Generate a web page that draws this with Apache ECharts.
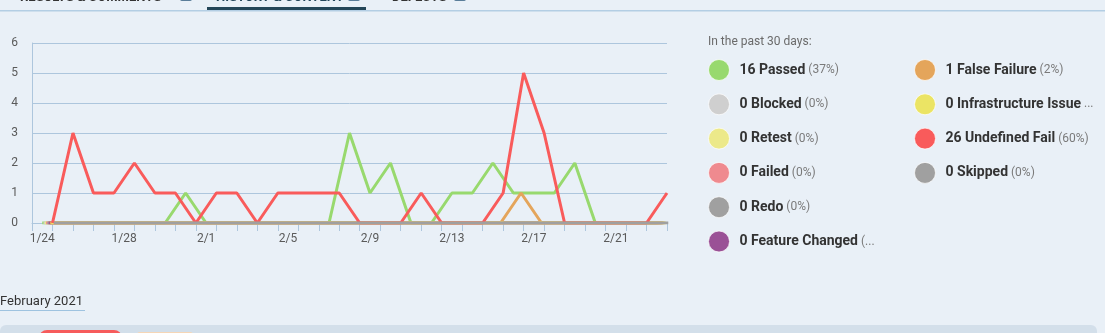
<!DOCTYPE html>
<html><head><meta charset="utf-8">
<script src="https://cdn.jsdelivr.net/npm/echarts@6/dist/echarts.min.js"></script>
<style>html,body{margin:0;padding:0;background:#e9f0f7;overflow:hidden}#c{width:1105px;height:333px}</style>
</head><body><div id="c"></div><script>
// ---- data ----
const days = ['1/24','1/25','1/26','1/27','1/28','1/29','1/30','1/31','2/1','2/2','2/3','2/4','2/5','2/6','2/7','2/8','2/9','2/10','2/11','2/12','2/13','2/14','2/15','2/16','2/17','2/18','2/19','2/20','2/21','2/22','2/23'];
const yTicks = [0,1,2,3,4,5,6];
const names = ['Passed','Blocked','Retest','Failed','Redo','Feature Changed','False Failure','Infrastructure Issue','Undefined Fail','Skipped'];
const counts = [16,0,0,0,0,0,1,0,26,0];
const percents = ['37%','0%','0%','0%','0%','0%','2%','0%','60%','0%'];
const passed         = [0,0,0,0,0,0,0,1,0,0,0,0,0,0,0,3,1,2,0,0,1,1,2,1,1,1,2,0,0,0,0];
const blocked        = [0,0,0,0,0,0,0,0,0,0,0,0,0,0,0,0,0,0,0,0,0,0,0,0,0,0,0,0,0,0,0];
const retest         = [0,0,0,0,0,0,0,0,0,0,0,0,0,0,0,0,0,0,0,0,0,0,0,0,0,0,0,0,0,0,0];
const failed         = [0,0,0,0,0,0,0,0,0,0,0,0,0,0,0,0,0,0,0,0,0,0,0,0,0,0,0,0,0,0,0];
const redo           = [0,0,0,0,0,0,0,0,0,0,0,0,0,0,0,0,0,0,0,0,0,0,0,0,0,0,0,0,0,0,0];
const featureChanged = [0,0,0,0,0,0,0,0,0,0,0,0,0,0,0,0,0,0,0,0,0,0,0,0,0,0,0,0,0,0,0];
const falseFailure   = [0,0,0,0,0,0,0,0,0,0,0,0,0,0,0,0,0,0,0,0,0,0,0,1,0,0,0,0,0,0,0];
const infraIssue     = [0,0,0,0,0,0,0,0,0,0,0,0,0,0,0,0,0,0,0,0,0,0,0,0,0,0,0,0,0,0,0];
const undefinedFail  = [0,3,1,1,2,1,1,0,1,1,0,1,1,1,1,0,0,0,1,0,0,0,1,5,3,0,0,0,0,0,1];
const skipped        = [0,0,0,0,0,0,0,0,0,0,0,0,0,0,0,0,0,0,0,0,0,0,0,0,0,0,0,0,0,0,0];
const seriesValues = [passed,blocked,retest,failed,redo,featureChanged,falseFailure,infraIssue,undefinedFail,skipped];

// ---- style ----
const colors = ['#98d96e','#cfcfcf','#ece98a','#ef8a8f','#a0a0a0','#9a5196','#e4a55b','#ebe464','#f95b5b','#a0a0a0'];
const OFFSET_STEP = 1/16;   // per-series horizontal stagger (fraction of a day)
const FONT = 'Roboto';
const blue = '#adc6dd';

const countOf = {}, pctOf = {};
names.forEach((n,i)=>{countOf[n]=counts[i]; pctOf[n]=percents[i];});
const legendText = n => `{b|${countOf[n]} ${n}}{p| (${pctOf[n]})}`;
const rich = {
  b:{fontFamily:FONT,fontWeight:'bold',fontSize:14,color:'#333'},
  p:{fontFamily:FONT,fontSize:12,color:'#7a7a7a'}
};
function legendCfg(left, data, width){
  return {
    left:left, top:54, orient:'vertical', itemGap:12.3, itemWidth:21, itemHeight:21,
    icon:'circle', selectedMode:false, data:data,
    itemStyle:{borderColor:'rgba(255,255,255,0.7)',borderWidth:1},
    formatter:legendText,
    textStyle:{width:width, overflow:'truncate', ellipsis:'...', padding:[0,0,0,5], rich:rich}
  };
}

const chart = echarts.init(document.getElementById('c'), null, {renderer:'canvas'});
chart.setOption({
  backgroundColor:'#e9f0f7',
  animation:false,
  textStyle:{fontFamily:FONT},
  title:{text:'In the past 30 days:', left:703, top:31, textStyle:{fontFamily:FONT,fontSize:12,fontWeight:'normal',color:'#6a6a6a'}},
  legend:[ legendCfg(703, names.slice(0,6), 145), legendCfg(909, names.slice(6), 151) ],
  grid:{left:32, right:438, top:43, bottom:110, outerBoundsMode:'none'},
  xAxis:[
    {type:'category', data:days, boundaryGap:true,
     axisLine:{lineStyle:{color:blue,width:1}},
     axisTick:{show:true, interval:0, length:8, lineStyle:{color:blue}},
     axisLabel:{interval:3, color:'#5a5a5a', fontSize:12, margin:10, fontFamily:FONT},
     splitLine:{show:false}},
    {type:'value', min:-0.5, max:days.length-0.5, show:false, splitLine:{show:false}}
  ],
  yAxis:{type:'value', min:yTicks[0], max:yTicks[yTicks.length-1], interval:1,
    axisLine:{show:true, onZero:false, lineStyle:{color:blue}},
    axisTick:{show:false},
    axisLabel:{color:'#5a5a5a', fontSize:12, margin:14, fontFamily:FONT},
    splitLine:{lineStyle:{color:blue,width:1}}},
  series:names.map((n,k)=>({
    type:'line', name:n, xAxisIndex:1, symbol:'none', showSymbol:false, silent:true,
    data:seriesValues[k].map((v,i)=>[i + k*OFFSET_STEP, v]),
    lineStyle:{width:3, color:colors[k]}, itemStyle:{color:colors[k]}
  })),
  graphic:[
    // top tabs (clipped)
    {type:'text', left:20, top:-9, style:{text:'RESULTS & COMMENTS', font:'bold 13px '+FONT, fill:'#333'}},
    {type:'rect', left:180, top:-9, shape:{width:12,height:10,r:2}, style:{fill:'#5a7d99'}},
    {type:'text', left:216, top:-9, style:{text:'HISTORY & CONTENT', font:'bold 13px '+FONT, fill:'#23465a'}},
    {type:'rect', left:348, top:-9, shape:{width:12,height:10,r:2}, style:{fill:'#5a7d99'}},
    {type:'text', left:392, top:-9, style:{text:'DEFECTS', font:'bold 13px '+FONT, fill:'#333'}},
    {type:'rect', left:454, top:-9, shape:{width:12,height:10,r:2}, style:{fill:'#5a7d99'}},
    {type:'rect', left:207, top:7, shape:{width:159,height:3}, style:{fill:'#244658'}},
    {type:'rect', left:0, top:10, shape:{width:1105,height:1.5}, style:{fill:'#b3cee4'}},
    // bottom
    {type:'text', left:0, top:295, style:{text:'February 2021', font:'13px '+FONT, fill:'#333'}},
    {type:'rect', left:0, top:310, shape:{width:85,height:1}, style:{fill:'#9ec3e0'}},
    {type:'rect', left:0, top:325, shape:{width:1097,height:20,r:6}, style:{fill:'#d3dfea'}},
    {type:'rect', left:39, top:330, shape:{width:83,height:16,r:8}, style:{fill:'#f65b5b'}},
    {type:'rect', left:137, top:332, shape:{width:56,height:10,r:3}, style:{fill:'#f6d6b6'}}
  ]
});
</script></body></html>
